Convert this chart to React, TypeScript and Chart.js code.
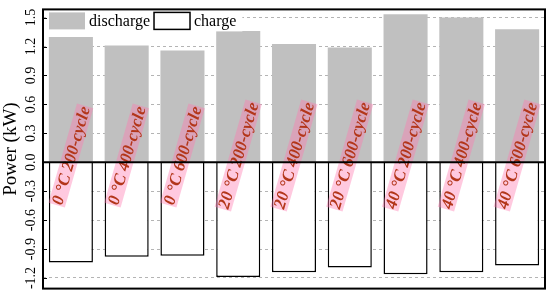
import { useEffect, useRef } from 'react';
import { Chart, registerables } from 'chart.js';

Chart.register(...registerables);

const temperatures = ['0 °C', '0 °C', '0 °C', '20 °C', '20 °C', '20 °C', '40 °C', '40 °C', '40 °C'];
const cycles = ['200-cycle', '400-cycle', '600-cycle', '200-cycle', '400-cycle', '600-cycle', '200-cycle', '400-cycle', '600-cycle'];
const categories = temperatures.map((t, i) => `${t} ${cycles[i]}`);
const dischargePower = [1.30, 1.21, 1.16, 1.36, 1.225, 1.19, 1.535, 1.50, 1.38];
const chargePower = [-1.04, -0.98, -0.97, -1.19, -1.14, -1.09, -1.16, -1.14, -1.07];
const yTicks = [-1.2, -0.9, -0.6, -0.3, 0, 0.3, 0.6, 0.9, 1.2, 1.5];
const yMin = -1.31;
const yMax = 1.585;
const labelCenterValue = 0.07;

const SERIF = '"Liberation Serif", "Times New Roman", serif';

const overlayPlugin = {
  id: 'overlay',
  afterDatasetsDraw(chart: any) {
    const { ctx } = chart;
    const xs = chart.scales.x;
    const ys = chart.scales.y;
    ctx.save();
    ctx.font = `italic bold 17px ${SERIF}`;
    categories.forEach((lab, i) => {
      const px = xs.getPixelForValue(i);
      const py = ys.getPixelForValue(labelCenterValue);
      ctx.save();
      ctx.translate(px, py);
      ctx.rotate((-74 * Math.PI) / 180);
      const w = ctx.measureText(lab).width;
      ctx.fillStyle = 'rgba(255,120,175,0.4)';
      ctx.fillRect(-w / 2 - 1, -8.5, w + 2, 17);
      ctx.fillStyle = '#b3361a';
      ctx.textAlign = 'center';
      ctx.textBaseline = 'middle';
      ctx.fillText(lab, 0, 1);
      ctx.restore();
    });
    ctx.restore();
  },
  afterDraw(chart: any) {
    const { ctx, chartArea } = chart;
    const ys = chart.scales.y;
    ctx.save();
    // zero line
    const y0 = ys.getPixelForValue(0);
    ctx.strokeStyle = '#000';
    ctx.lineWidth = 2;
    ctx.beginPath();
    ctx.moveTo(chartArea.left, y0);
    ctx.lineTo(chartArea.right, y0);
    ctx.stroke();
    // inward tick marks
    ctx.lineWidth = 1;
    yTicks.forEach((v) => {
      const py = Math.round(ys.getPixelForValue(v)) + 0.5;
      ctx.beginPath();
      ctx.moveTo(chartArea.left, py);
      ctx.lineTo(chartArea.left + 4, py);
      ctx.stroke();
    });
    // legend (inside plot, top-left)
    ctx.font = `16px ${SERIF}`;
    const boxW = 36;
    const boxH = 17;
    const top = chartArea.top + 3;
    let x = chartArea.left + 6;
    const items = chart.data.datasets.map((ds: any) => ({
      label: ds.label,
      fill: ds.backgroundColor,
      stroke: ds.borderWidth ? ds.borderColor : null,
      lw: ds.borderWidth,
      tw: ctx.measureText(ds.label).width,
    }));
    const total = items.reduce((s: number, it: any) => s + boxW + 4 + it.tw + 4, 0);
    ctx.fillStyle = '#fff';
    ctx.fillRect(x - 2, top - 2, total + 4, boxH + 4);
    items.forEach((it: any) => {
      ctx.fillStyle = it.fill;
      ctx.fillRect(x, top, boxW, boxH);
      if (it.stroke) {
        ctx.strokeStyle = it.stroke;
        ctx.lineWidth = it.lw;
        ctx.strokeRect(x, top, boxW, boxH);
      }
      ctx.fillStyle = '#000';
      ctx.textAlign = 'left';
      ctx.textBaseline = 'middle';
      ctx.fillText(it.label, x + boxW + 4, top + boxH / 2 + 1);
      x += boxW + 4 + it.tw + 4;
    });
    // frame
    ctx.strokeStyle = '#000';
    ctx.lineWidth = 2;
    ctx.strokeRect(chartArea.left, chartArea.top, chartArea.right - chartArea.left, chartArea.bottom - chartArea.top);
    ctx.restore();
  },
};

export default function App() {
  const ref = useRef<HTMLCanvasElement | null>(null);
  useEffect(() => {
    if (!ref.current) return;
    const chart = new Chart(ref.current, {
      type: 'bar',
      data: {
        labels: categories,
        datasets: [
          {
            label: 'discharge',
            data: dischargePower,
            backgroundColor: '#c0c0c0',
            borderWidth: 0,
            grouped: false,
            barPercentage: 0.79,
            categoryPercentage: 1,
          },
          {
            label: 'charge',
            data: chargePower,
            backgroundColor: '#ffffff',
            borderColor: '#000000',
            borderWidth: 1.5,
            grouped: false,
            barPercentage: 0.79,
            categoryPercentage: 1,
          },
        ],
      },
      options: {
        responsive: false,
        animation: false,
        devicePixelRatio: 1,
        layout: { padding: { left: 0, right: 5, top: 6, bottom: 6 } },
        scales: {
          x: { display: false },
          y: {
            min: yMin,
            max: yMax,
            afterBuildTicks: (s: any) => {
              s.ticks = yTicks.map((v) => ({ value: v }));
            },
            afterFit: (s: any) => {
              s.width = 43;
            },
            ticks: {
              minRotation: 90,
              maxRotation: 90,
              crossAlign: 'center',
              padding: 1,
              color: '#000',
              font: { family: SERIF, size: 14 },
              callback: (v: any) => Number(v).toFixed(1),
            },
            grid: {
              drawTicks: false,
              color: (c: any) => (c.tick && c.tick.value === 0 ? 'rgba(0,0,0,0)' : '#b4b4b4'),
              lineWidth: 1,
            },
            border: { display: false, dash: [3, 3] },
            title: {
              display: true,
              text: 'Power (kW)',
              color: '#000',
              font: { family: SERIF, size: 19 },
              padding: 0,
            },
          },
        },
        plugins: {
          legend: { display: false },
          tooltip: { enabled: false },
        },
      },
      plugins: [overlayPlugin],
    });
    return () => chart.destroy();
  }, []);
  return (
    <div style={{ position: 'fixed', left: 0, top: 0, width: 550, height: 298, background: '#fff' }}>
      <canvas ref={ref} width={550} height={298} />
    </div>
  );
}
